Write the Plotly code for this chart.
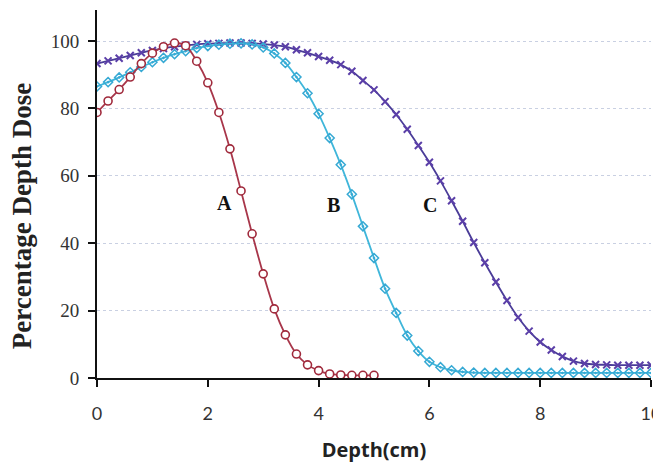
import numpy as np
import plotly.graph_objects as go

depth_a = [round(0.2 * i, 1) for i in range(26)]
dose_a = [78.8, 82.2, 85.6, 89.3, 93.3, 96.4, 98.3, 99.4, 98.6, 94.0,
          87.6, 78.8, 68.0, 55.5, 42.8, 30.9, 20.5, 12.8, 7.1, 3.9,
          2.2, 1.2, 0.9, 0.8, 0.8, 0.8]

depth_bc = [round(0.2 * i, 1) for i in range(51)]
dose_b = [86.5, 87.8, 89.2, 90.7, 92.3, 93.7, 95.0, 96.1, 97.0, 97.9,
          98.5, 98.9, 99.2, 99.3, 99.0, 98.1, 96.3, 93.5, 89.3, 84.5,
          78.4, 71.2, 63.3, 54.5, 45.0, 35.6, 26.5, 19.3, 12.6, 8.0,
          4.8, 3.2, 2.3, 1.8, 1.6, 1.5, 1.5, 1.5, 1.5, 1.5,
          1.5, 1.5, 1.5, 1.5, 1.5, 1.5, 1.5, 1.5, 1.5, 1.5, 1.5]
dose_c = [93.3, 94.1, 94.9, 95.7, 96.5, 97.2, 97.8, 98.3, 98.7, 99.0,
          99.2, 99.3, 99.4, 99.4, 99.3, 99.1, 98.8, 98.3, 97.4, 96.5,
          95.4, 94.3, 93.0, 91.0, 88.3, 85.5, 82.0, 78.2, 73.8, 69.0,
          64.0, 58.5, 52.6, 46.5, 40.2, 34.2, 28.5, 23.0, 18.0, 13.9,
          10.7, 8.3, 6.4, 5.0, 4.3, 4.0, 3.9, 3.8, 3.8, 3.8, 3.8]

labels = ["A", "B", "C"]
label_x = [2.31, 4.26, 6.01]
label_y = [52.0, 51.3, 51.3]

x_ticks = [0, 2, 4, 6, 8, 10]
y_ticks = [0, 20, 40, 60, 80, 100]

fig = go.Figure()
fig.add_trace(go.Scatter(
    x=depth_bc, y=dose_c, mode="lines+markers",
    line=dict(color="#4a3c98", width=1.8, shape="spline"),
    marker=dict(symbol="x-thin", size=7, line=dict(color="#5b3fa8", width=2)),
    showlegend=False))
fig.add_trace(go.Scatter(
    x=depth_bc, y=dose_b, mode="lines+markers",
    line=dict(color="#3fb6da", width=1.8, shape="spline"),
    marker=dict(symbol="diamond-open-dot", size=7, color="#36a9d4",
                line=dict(width=1.5)),
    showlegend=False))
fig.add_trace(go.Scatter(
    x=depth_a, y=dose_a, mode="lines+markers",
    line=dict(color="#a8364a", width=1.8, shape="spline"),
    marker=dict(symbol="circle", size=8, color="white",
                line=dict(color="#a02a3c", width=1.6)),
    showlegend=False))

for t, xx, yy in zip(labels, label_x, label_y):
    fig.add_annotation(x=xx, y=yy, text="<b>" + t + "</b>", showarrow=False,
                       font=dict(family="Liberation Serif", size=20, color="#111"))

# y-axis title, placed as in the reference
fig.add_annotation(xref="paper", yref="paper", x=-0.135, y=0.44,
                   text="<b>Percentage Depth Dose</b>", textangle=-90,
                   showarrow=False, xanchor="center", yanchor="middle",
                   font=dict(family="Liberation Serif", size=27, color="#222"))

# page body has an 8px default margin; compensate so the plot area lands
# at the reference position
fig.update_layout(
    width=653, height=455,
    margin=dict(l=89, r=10, t=2, b=85),
    paper_bgcolor="white", plot_bgcolor="white",
    font=dict(family="Lato", color="#333"),
)
fig.update_xaxes(
    range=[0, 10], tickvals=x_ticks, showgrid=False, zeroline=False,
    showline=True, linecolor="#111", linewidth=2, automargin=False,
    ticks="outside", ticklen=7, tickwidth=2, tickcolor="#111",
    tickfont=dict(family="Lato", size=18, color="#333"), ticklabelstandoff=11,
    ticklabeloverflow="allow",
    title=dict(text="<b>Depth(cm)</b>", font=dict(family="Open Sans", size=20, color="#222"),
               standoff=23),
)
fig.update_yaxes(
    range=[0, 109.2], tickvals=y_ticks, showgrid=True, gridcolor="#c9d0e2",
    griddash="dot", gridwidth=1, zeroline=False,
    showline=True, linecolor="#111", linewidth=2, automargin=False,
    ticks="outside", ticklen=7, tickwidth=2, tickcolor="#111",
    tickfont=dict(family="Liberation Serif", size=19, color="#333"), ticklabelstandoff=5,
)

fig.write_html("out.html")
